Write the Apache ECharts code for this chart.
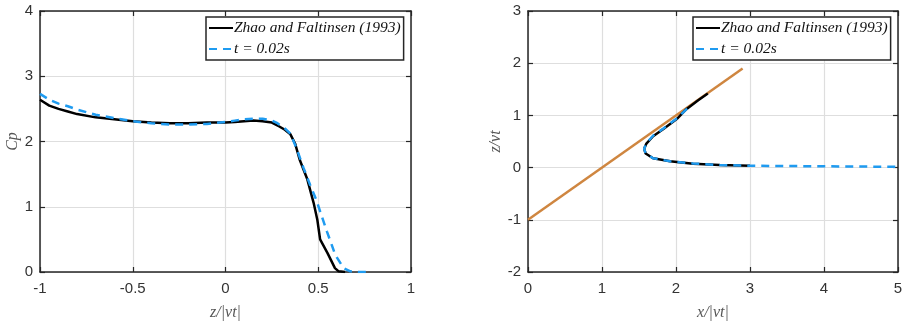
<!DOCTYPE html>
<html>
<head>
<meta charset="utf-8">
<script src="https://cdn.jsdelivr.net/npm/echarts/dist/echarts.min.js"></script>
<style>html,body{margin:0;padding:0;background:#fff;}#c{width:906px;height:326px;}</style>
</head>
<body>
<div id="c"></div>
<script>
// ---- Data: left panel (Cp vs z/|vt|) ----
const zhaoLeftX = [-1, -0.95, -0.9, -0.85, -0.8, -0.7, -0.6, -0.5, -0.4, -0.3, -0.2, -0.1, 0, 0.05, 0.1, 0.15, 0.2, 0.25, 0.29, 0.32, 0.35, 0.375, 0.40, 0.44, 0.475, 0.495, 0.51, 0.55, 0.59, 0.61, 0.645];
const zhaoLeftY = [2.64, 2.55, 2.5, 2.46, 2.42, 2.37, 2.34, 2.31, 2.29, 2.28, 2.28, 2.29, 2.29, 2.30, 2.31, 2.32, 2.31, 2.29, 2.23, 2.18, 2.11, 1.97, 1.72, 1.43, 1.06, 0.80, 0.50, 0.29, 0.06, 0.01, 0.00];
const simLeftX = [-1, -0.95, -0.9, -0.85, -0.8, -0.7, -0.6, -0.5, -0.4, -0.3, -0.2, -0.1, 0, 0.05, 0.1, 0.15, 0.2, 0.25, 0.28, 0.32, 0.35, 0.385, 0.42, 0.457, 0.49, 0.511, 0.547, 0.592, 0.637, 0.673, 0.72, 0.763];
const simLeftY = [2.73, 2.64, 2.58, 2.54, 2.49, 2.41, 2.36, 2.31, 2.28, 2.26, 2.26, 2.27, 2.30, 2.32, 2.34, 2.35, 2.35, 2.32, 2.28, 2.20, 2.12, 1.88, 1.60, 1.33, 1.10, 0.92, 0.62, 0.26, 0.06, 0.01, 0, 0];

// ---- Data: right panel (z/vt vs x/|vt|) ----
const zhaoRightX = [2.43, 2.30, 2.14, 2.01, 1.83, 1.69, 1.60, 1.57, 1.59, 1.69, 1.92, 2.23, 2.59, 3.0];
const zhaoRightY = [1.42, 1.29, 1.12, 0.93, 0.74, 0.60, 0.46, 0.36, 0.27, 0.18, 0.12, 0.076, 0.048, 0.035];
const simRightX = [2.15, 2.01, 1.83, 1.69, 1.60, 1.57, 1.59, 1.69, 1.92, 2.23, 2.59, 3.0, 3.5, 4.0, 4.5, 5.0];
const simRightY = [1.13, 0.94, 0.75, 0.61, 0.47, 0.36, 0.27, 0.18, 0.12, 0.078, 0.05, 0.035, 0.03, 0.025, 0.02, 0.015];
const bodyX = [0, 2.9];
const bodyY = [-1, 1.9];

// ---- Axis ticks ----
const leftXTicks = [-1, 1, 0.5];   // min, max, interval
const leftYTicks = [0, 4, 1];
const rightXTicks = [0, 5, 1];
const rightYTicks = [-2, 3, 1];

const seriesNames = ['Zhao and Faltinsen (1993)', 't = 0.02s'];
const axisTitles = { leftX: 'z/|vt|', leftY: 'Cp', rightX: 'x/|vt|', rightY: 'z/vt' };

const pairs = (xs, ys) => xs.map((x, i) => [x, ys[i]]);

const AX = '#262626';
const GRIDC = '#dedede';
const BLUE = '#1f9bf0';
const ORANGE = '#cf8640';
const BLACK = '#000000';

function mainAxis(pos, gridIndex, t, name, nameGap, isX) {
  return {
    type: 'value', gridIndex, position: pos,
    min: t[0], max: t[1], interval: t[2],
    name, nameLocation: 'middle', nameGap,
    nameRotate: isX ? 0 : 90,
    nameTextStyle: { fontFamily: 'Liberation Serif', fontStyle: 'italic', fontSize: 16, color: '#555' },
    axisLine: { show: true, onZero: false, lineStyle: { color: AX, width: 1.5 } },
    axisTick: { show: true, inside: true, length: 5, lineStyle: { color: AX, width: 1.2 } },
    axisLabel: { show: true, margin: isX ? 9 : 7, fontFamily: 'Liberation Sans', fontSize: 15, color: '#333' },
    splitLine: { show: true, lineStyle: { color: GRIDC, width: 1.2 } }
  };
}
function mirrorAxis(pos, gridIndex, t) {
  return {
    type: 'value', gridIndex, position: pos,
    min: t[0], max: t[1], interval: t[2],
    axisLine: { show: true, onZero: false, lineStyle: { color: AX, width: 1.5 } },
    axisTick: { show: true, inside: true, length: 5, lineStyle: { color: AX, width: 1.2 } },
    axisLabel: { show: false },
    splitLine: { show: false }
  };
}

function legendAt(left) {
  return {
    show: true, left, top: 17, orient: 'vertical',
    data: seriesNames,
    itemWidth: 24, itemHeight: 14, itemGap: 5,
    padding: [3, 3, 3, 2],
    backgroundColor: '#fff',
    borderColor: AX, borderWidth: 1.5, borderRadius: 0,
    selectedMode: false,
    itemStyle: { opacity: 0 },
    textStyle: { fontFamily: 'Liberation Serif', fontStyle: 'italic', fontSize: 15.5, color: '#111', padding: [0, 0, 0, -4] }
  };
}

const lineSeries = (name, data, xi, yi, color, dash, z) => ({
  name, type: 'line', data, xAxisIndex: xi, yAxisIndex: yi,
  showSymbol: false, symbol: 'none', smooth: false, z,
  lineStyle: { color, width: 2.5, type: dash }, itemStyle: { color }
});

const option = {
  animation: false,
  backgroundColor: '#fff',
  grid: [
    { left: 40, top: 11, width: 371, height: 263, containLabel: false },
    { left: 528, top: 11, width: 370, height: 263, containLabel: false }
  ],
  xAxis: [
    mainAxis('bottom', 0, leftXTicks, axisTitles.leftX, 33, true),
    mainAxis('bottom', 1, rightXTicks, axisTitles.rightX, 33, true),
    mirrorAxis('top', 0, leftXTicks),
    mirrorAxis('top', 1, rightXTicks)
  ],
  yAxis: [
    mainAxis('left', 0, leftYTicks, axisTitles.leftY, 17, false),
    mainAxis('left', 1, rightYTicks, axisTitles.rightY, 23, false),
    mirrorAxis('right', 0, leftYTicks),
    mirrorAxis('right', 1, rightYTicks)
  ],
  legend: [legendAt(206), legendAt(693)],
  series: [
    lineSeries(seriesNames[0], pairs(zhaoLeftX, zhaoLeftY), 0, 0, BLACK, 'solid', 2),
    lineSeries(seriesNames[1], pairs(simLeftX, simLeftY), 0, 0, BLUE, [8, 6], 3),
    lineSeries('body', pairs(bodyX, bodyY), 1, 1, ORANGE, 'solid', 1),
    lineSeries(seriesNames[0], pairs(zhaoRightX, zhaoRightY), 1, 1, BLACK, 'solid', 2),
    lineSeries(seriesNames[1], pairs(simRightX, simRightY), 1, 1, BLUE, [8, 6], 3)
  ]
};

const chart = echarts.init(document.getElementById('c'), null, { renderer: 'canvas' });
chart.setOption(option);
</script>
</body>
</html>
